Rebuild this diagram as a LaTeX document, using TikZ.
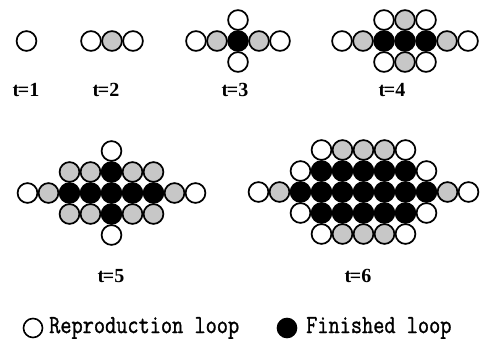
\documentclass[tikz,border=0pt]{standalone}
\usepackage{fontspec}
\setmainfont{Liberation Serif}
\newfontfamily\legfont{Latin Modern Mono}[FakeBold=1.2]
\begin{document}
\begin{tikzpicture}[x=1pt,y=-1pt,
  loopc/.style={circle,draw=black,line width=1.7pt,minimum size=19.8pt,inner sep=0pt},
  rl/.style={loopc,fill=white},
  gl/.style={loopc,fill=black!22},
  fl/.style={loopc,fill=black},
  lbl/.style={font=\fontsize{20}{20}\selectfont\bfseries},
  leg/.style={font=\fontsize{21.7}{21.7}\selectfont\legfont,anchor=west,inner sep=0pt}]
\useasboundingbox (0,0) rectangle (483,347);
\def\d{21}
% t=1
\node[rl] (a-0-0) at (26.5,41) {};
% t=2
\foreach \c/\s in {-1/rl,0/gl,1/rl}
  \node[\s] (b-\c) at ({112+\c*\d},41) {};
% t=3
\foreach \c/\r/\s in {-2/0/rl,-1/0/gl,1/0/gl,2/0/rl,0/-1/rl,0/1/rl,0/0/fl}
  \node[\s] (c-\c-\r) at ({238+\c*\d},{41+\r*\d}) {};
% t=4
\foreach \c/\r/\s in {-3/0/rl,-2/0/gl,2/0/gl,3/0/rl,
    -1/-1/rl,0/-1/gl,1/-1/rl,-1/1/rl,0/1/gl,1/1/rl,
    -1/0/fl,0/0/fl,1/0/fl}
  \node[\s] (d-\c-\r) at ({405+\c*\d},{41+\r*\d}) {};
% t=5
\foreach \c/\r/\s in {0/-2/rl,0/2/rl,-4/0/rl,4/0/rl,-3/0/gl,3/0/gl,
    -2/-1/gl,-1/-1/gl,1/-1/gl,2/-1/gl,-2/1/gl,-1/1/gl,1/1/gl,2/1/gl,
    0/-1/fl,0/1/fl,-2/0/fl,-1/0/fl,0/0/fl,1/0/fl,2/0/fl}
  \node[\s] (e-\c-\r) at ({111.5+\c*\d},{193+\r*\d}) {};
% t=6
\foreach \c/\r/\s in {-2/-2/rl,-1/-2/gl,0/-2/gl,1/-2/gl,2/-2/rl,
    -2/2/rl,-1/2/gl,0/2/gl,1/2/gl,2/2/rl,
    -3/-1/rl,3/-1/rl,-3/1/rl,3/1/rl,
    -5/0/rl,-4/0/gl,4/0/gl,5/0/rl}
  \node[\s] (f-\c-\r) at ({363.5+\c*\d},{192+\r*\d}) {};
\foreach \c in {-2,...,2}
  \foreach \r in {-1,1}
    \node[fl] (f-\c-\r) at ({363.5+\c*\d},{192+\r*\d}) {};
\foreach \c in {-3,...,3}
  \node[fl] (f-\c-0) at ({363.5+\c*\d},192) {};
% time labels
\node[lbl] (t1) at (26,90) {t\kern-1.5pt=1};
\node[lbl] (t2) at (106,90) {t\kern-1.5pt=2};
\node[lbl] (t3) at (235,90) {t\kern-1.5pt=3};
\node[lbl] (t4) at (392,90) {t\kern-1.5pt=4};
\node[lbl] (t5) at (111,276) {t\kern-1.5pt=5};
\node[lbl] (t6) at (358,276) {t\kern-1.5pt=6};
% legend
\node[circle,draw=black,line width=1.6pt,minimum size=19pt,inner sep=0pt,fill=white] (k1) at (33,328) {};
\node[leg] (k1t) at (49,328) {\scalebox{1}[1.2]{Reproduction loop}};
\node[circle,draw=black,line width=1.6pt,minimum size=19pt,inner sep=0pt,fill=black] (k2) at (287,328) {};
\node[leg] (k2t) at (306,328) {\scalebox{1}[1.2]{Finished loop}};
\end{tikzpicture}
\end{document}
